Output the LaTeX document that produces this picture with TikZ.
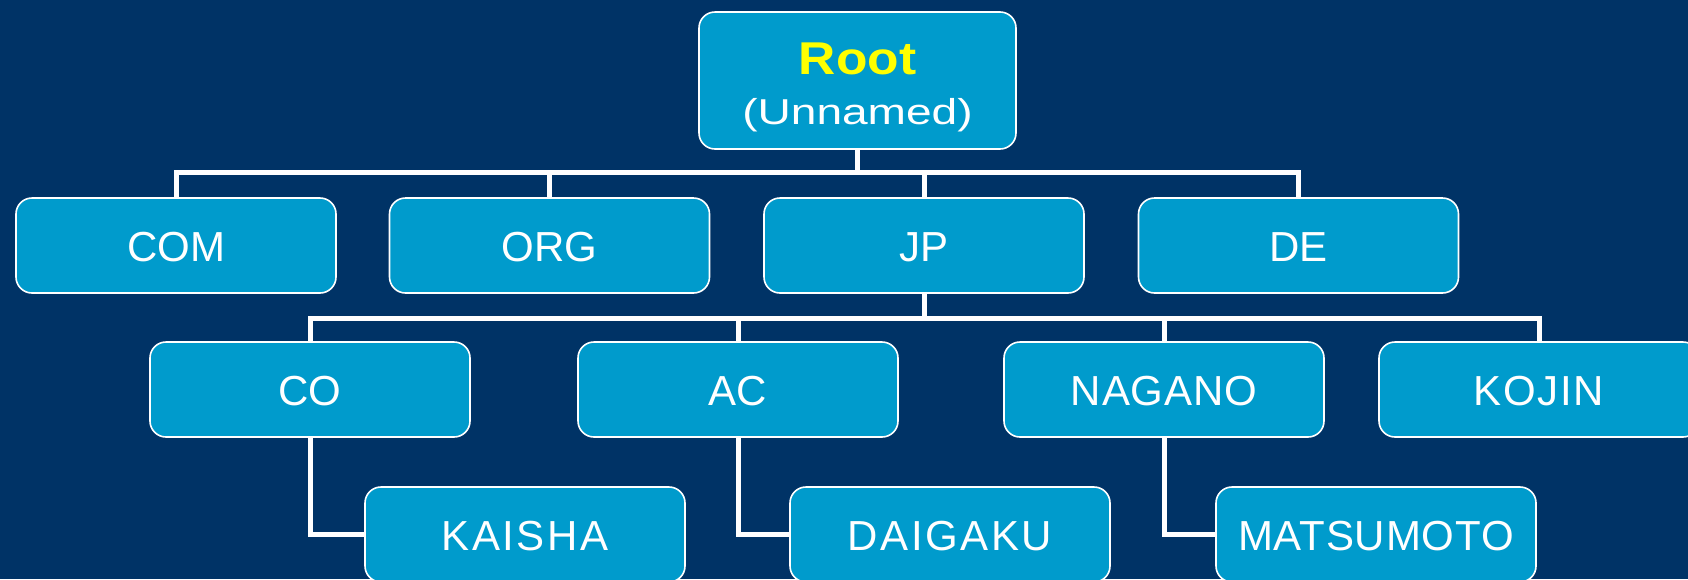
\documentclass[tikz,border=0pt]{standalone}
\usepackage{fontspec}
\setmainfont{Liberation Sans}
\definecolor{bgblue}{HTML}{003366}
\definecolor{boxblue}{HTML}{009BCC}
\definecolor{rootyellow}{HTML}{FFFF00}
\begin{document}
\begin{tikzpicture}[x=1pt,y=-1pt,
  box/.style={draw=white, line width=1.6pt, fill=boxblue, rounded corners=16pt,
    minimum width=320pt, minimum height=95pt, inner sep=0pt, text=white,
    text height=32pt, text depth=0pt,
    font=\fontsize{42}{50}\selectfont},
  conn/.style={draw=white, line width=5pt, line join=miter}]
\fill[bgblue] (0,0) rectangle (1688,579);
\useasboundingbox (0,0) rectangle (1688,579);
\clip (0,0) rectangle (1688,579);
\coordinate (busA) at (858,172);
\coordinate (busB) at (924,318);
% nodes
\node[box, minimum width=317pt, minimum height=137pt, align=center,
      text height=, text depth=] (root) at (857.5,80.5)
  {\fontsize{46}{52}\selectfont\bfseries\addfontfeatures{FakeStretch=1.12}\rule{0pt}{46pt}\color{rootyellow}Root\\
   \fontsize{36}{52}\selectfont\addfontfeatures{FakeStretch=1.28}(Unnamed)};
\node[box] (com) at (176,245.5) {COM};
\node[box] (org) at (549.5,245.5) {ORG};
\node[box] (jp) at (924,245.5) {JP};
\node[box] (de) at (1298.5,245.5) {DE};
\node[box] (co) at (310,389.5) {CO};
\node[box] (ac) at (738,389.5) {AC};
\node[box] (nagano) at (1164,389.5) {\addfontfeatures{LetterSpace=2}NAGANO};
\node[box] (kojin) at (1539,389.5) {\addfontfeatures{LetterSpace=4}KOJIN};
\node[box] (kaisha) at (525,534.5) {\addfontfeatures{LetterSpace=6}KAISHA};
\node[box] (daigaku) at (950,534.5) {\addfontfeatures{LetterSpace=6}DAIGAKU};
\node[box] (matsumoto) at (1376,534.5) {\addfontfeatures{LetterSpace=2}MATSUMOTO};
% connectors
\draw[conn] (root.south) -- (root.south |- busA);
\draw[conn] (com.north) -- (com.north |- busA) -- (de.north |- busA) -- (de.north);
\draw[conn] (org.north) -- (org.north |- busA);
\draw[conn] (jp.north) -- (jp.north |- busA);
\draw[conn] (jp.south) -- (jp.south |- busB);
\draw[conn] (co.north) -- (co.north |- busB) -- (kojin.north |- busB) -- (kojin.north);
\draw[conn] (ac.north) -- (ac.north |- busB);
\draw[conn] (nagano.north) -- (nagano.north |- busB);
\draw[conn] (co.south) |- (kaisha.west);
\draw[conn] (ac.south) |- (daigaku.west);
\draw[conn] (nagano.south) |- (matsumoto.west);
\end{tikzpicture}
\end{document}
